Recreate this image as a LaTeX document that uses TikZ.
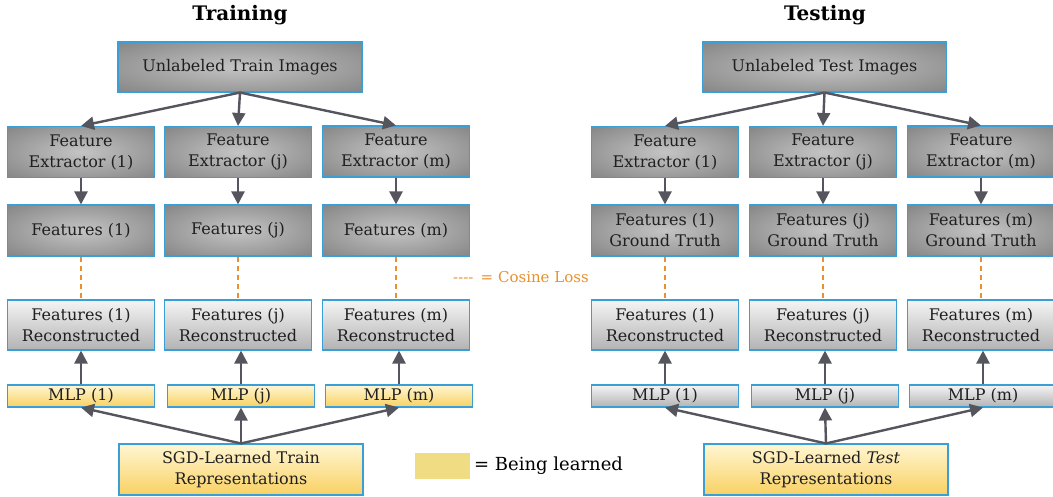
\documentclass[tikz,border=0pt]{standalone}
\usepackage{fontspec}
\setmainfont{DejaVu Serif}
\usetikzlibrary{positioning, arrows.meta}
\definecolor{boxedge}{HTML}{3A9FD6}
\definecolor{arrowgray}{HTML}{55555E}
\definecolor{lossorange}{HTML}{E8912D}
\definecolor{learnyellow}{HTML}{F0DC82}
\definecolor{glowin}{HTML}{C4C4C4}
\definecolor{glowout}{HTML}{6C6C6C}
\definecolor{yellowtop}{HTML}{FFF6D2}
\definecolor{yellowbottom}{HTML}{F9D163}
\pgfdeclareradialshading{boxglow}{\pgfpoint{0bp}{0bp}}{color(0bp)=(glowin); color(50bp)=(glowout); color(72bp)=(glowout)}
\tikzset{
  box/.style={draw=boxedge, line width=1.1pt, inner sep=0pt, align=center,
    text=black!88, font=\fontsize{16}{21}\selectfont}, % common look of all boxes
  darkbox/.style={box, shading=boxglow}, % images, extractors, features
  lightbox/.style={box, top color=black!4, bottom color=black!30}, % reconstructed features
  yellowbox/.style={box, top color=yellowtop, bottom color=yellowbottom}, % being learned
  flow/.style={-{Triangle[length=13pt,width=13pt]}, draw=arrowgray, line width=2.4pt},
  loss/.style={draw=lossorange, line width=1.5pt, dash pattern=on 5pt off 4pt},
  wide/.style={minimum width=244pt, minimum height=50pt},
  col/.style={minimum width=147pt, minimum height=51pt},
  thin/.style={minimum width=147pt, minimum height=22pt},
}

\begin{document}
\begin{tikzpicture}[x=1pt, y=-1pt]
  \useasboundingbox (0,0) rectangle (1053,497);

  % training side
  \node[font=\fontsize{20}{22}\selectfont\bfseries] (titletrain) at (240,15) {Training};
  \node[darkbox, wide] (imgtrain) at (240,67) {Unlabeled Train Images};
  \node[darkbox, col] (ex1) at (81,152) {Feature\\Extractor (1)};
  \node[darkbox, col] (exj) at (238,152) {Feature\\Extractor (j)};
  \node[darkbox, col] (exm) at (396,151.5) {Feature\\Extractor (m)};
  \node[darkbox, col] (ft1) at (81,230.5) {Features (1)};
  \node[darkbox, col] (ftj) at (238,230.5) {Features (j)};
  \node[darkbox, col] (ftm) at (396,230.5) {Features (m)};
  \node[lightbox, col, minimum height=50pt] (rc1) at (81,325) {Features (1)\\Reconstructed};
  \node[lightbox, col, minimum height=50pt] (rcj) at (238,325) {Features (j)\\Reconstructed};
  \node[lightbox, col, minimum height=50pt] (rcm) at (396,325) {Features (m)\\Reconstructed};
  \node[yellowbox, thin] (mlp1) at (81,396) {MLP (1)};
  \node[yellowbox, thin] (mlpj) at (241,396) {MLP (j)};
  \node[yellowbox, thin] (mlpm) at (399,396) {MLP (m)};
  \node[yellowbox, wide, minimum height=51pt] (sgdtrain) at (241,469.5) {SGD-Learned Train\\Representations};

  \draw[flow] (imgtrain.south) -- (ex1.north);
  \draw[flow] (imgtrain.south) -- (exj.north);
  \draw[flow] (imgtrain.south) -- (exm.north);
  \draw[flow] (ex1) -- (ft1);
  \draw[flow] (exj) -- (ftj);
  \draw[flow] (exm) -- (ftm);
  \draw[loss] (ft1) -- (rc1);
  \draw[loss] (ftj) -- (rcj);
  \draw[loss] (ftm) -- (rcm);
  \draw[flow] (mlp1.north) -- (mlp1.north |- rc1.south);
  \draw[flow] (mlpj.north) -- (mlpj.north |- rcj.south);
  \draw[flow] (mlpm.north) -- (mlpm.north |- rcm.south);
  \draw[flow] (sgdtrain.north) -- (mlp1.south);
  \draw[flow] (sgdtrain.north) -- (mlpj.south);
  \draw[flow] (sgdtrain.north) -- (mlpm.south);

  % legends
  \node[text=lossorange, font=\fontsize{15}{17}\selectfont, anchor=west, inner sep=0pt] (losskey) at (453,277) {{-}{-}{-}{-}\, = Cosine Loss};
  \node[fill=learnyellow, minimum width=55pt, minimum height=26pt, inner sep=0pt] (learnkey) at (442.5,466) {};
  \node[font=\fontsize{18}{20}\selectfont, anchor=west, inner sep=0pt] (learntext) at (474,466) {= Being learned};

  % testing side
  \node[font=\fontsize{20}{22}\selectfont\bfseries] (titletest) at (825,15) {Testing};
  \node[darkbox, wide] (imgtest) at (824.5,67) {Unlabeled Test Images};
  \node[darkbox, col] (tex1) at (665,152) {Feature\\Extractor (1)};
  \node[darkbox, col] (texj) at (823,152) {Feature\\Extractor (j)};
  \node[darkbox, col] (texm) at (981,151.5) {Feature\\Extractor (m)};
  \node[darkbox, col] (tft1) at (665,230.5) {Features (1)\\Ground Truth};
  \node[darkbox, col] (tftj) at (823,230.5) {Features (j)\\Ground Truth};
  \node[darkbox, col] (tftm) at (981,230.5) {Features (m)\\Ground Truth};
  \node[lightbox, col, minimum height=50pt] (trc1) at (665,325) {Features (1)\\Reconstructed};
  \node[lightbox, col, minimum height=50pt] (trcj) at (823,325) {Features (j)\\Reconstructed};
  \node[lightbox, col, minimum height=50pt] (trcm) at (981,325) {Features (m)\\Reconstructed};
  \node[lightbox, thin] (tmlp1) at (665,396) {MLP (1)};
  \node[lightbox, thin] (tmlpj) at (825,396) {MLP (j)};
  \node[lightbox, thin] (tmlpm) at (983,396) {MLP (m)};
  \node[yellowbox, wide, minimum height=51pt] (sgdtest) at (826,469.5) {SGD-Learned \textit{Test}\\Representations};

  \draw[flow] (imgtest.south) -- (tex1.north);
  \draw[flow] (imgtest.south) -- (texj.north);
  \draw[flow] (imgtest.south) -- (texm.north);
  \draw[flow] (tex1) -- (tft1);
  \draw[flow] (texj) -- (tftj);
  \draw[flow] (texm) -- (tftm);
  \draw[loss] (tft1) -- (trc1);
  \draw[loss] (tftj) -- (trcj);
  \draw[loss] (tftm) -- (trcm);
  \draw[flow] (tmlp1.north) -- (tmlp1.north |- trc1.south);
  \draw[flow] (tmlpj.north) -- (tmlpj.north |- trcj.south);
  \draw[flow] (tmlpm.north) -- (tmlpm.north |- trcm.south);
  \draw[flow] (sgdtest.north) -- (tmlp1.south);
  \draw[flow] (sgdtest.north) -- (tmlpj.south);
  \draw[flow] (sgdtest.north) -- (tmlpm.south);
\end{tikzpicture}
\end{document}
